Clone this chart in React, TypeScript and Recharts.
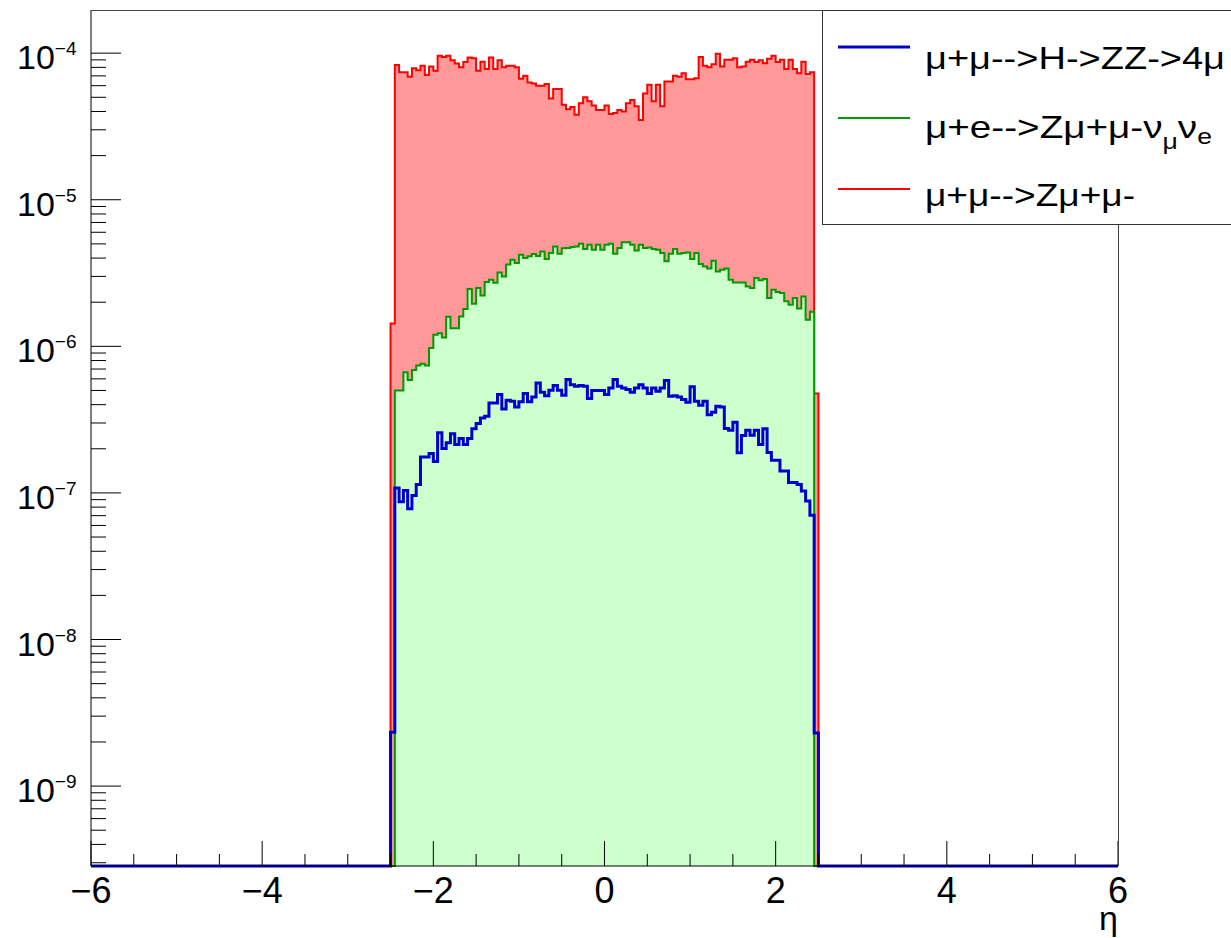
import React from "react";
import { ComposedChart, Area, Line, XAxis, YAxis } from "recharts";

// eta distributions, bins of 0.05 from -2.5 to 2.5 (everything outside is empty)
const BIN_START = -2.5;
const BIN_WIDTH = 0.05;

const X_MIN = -6;
const X_MAX = 6;
const Y_MIN = 2.85e-10;
const Y_MAX = 1.97e-4;

// mu+mu- --> Z mu+ mu-
const ZMUMU = [
  1.43e-6, 8.3e-5, 7.4e-5, 7.4e-5, 6.9e-5, 7.9e-5, 7.65e-5, 8.2e-5, 7.1e-5, 8.1e-5,
  7.6e-5, 9.6e-5, 9.4e-5, 9.6e-5, 8.95e-5, 8.5e-5, 8.0e-5, 8.7e-5, 9.35e-5, 9.25e-5,
  7.6e-5, 8.75e-5, 7.8e-5, 9.35e-5, 7.8e-5, 8.95e-5, 8.0e-5, 8.2e-5, 8.2e-5, 8.0e-5,
  6.7e-5, 7.0e-5, 6.3e-5, 6.2e-5, 6.0e-5, 6.0e-5, 6.15e-5, 4.9e-5, 5.7e-5, 5.7e-5,
  4.45e-5, 4.15e-5, 4.3e-5, 3.8e-5, 4.55e-5, 5.0e-5, 4.7e-5, 4.4e-5, 4.1e-5, 4.1e-5,
  4.4e-5, 3.85e-5, 3.9e-5, 4.1e-5, 4.0e-5, 4.55e-5, 4.8e-5, 4.35e-5, 3.5e-5, 5.3e-5,
  6.1e-5, 4.7e-5, 6.1e-5, 4.35e-5, 6.4e-5, 6.4e-5, 7.0e-5, 6.9e-5, 7.3e-5, 6.65e-5,
  6.65e-5, 6.75e-5, 9.4e-5, 8.2e-5, 8.0e-5, 8.4e-5, 9.9e-5, 8.1e-5, 9.0e-5, 9.0e-5,
  9.25e-5, 8.0e-5, 8.1e-5, 8.75e-5, 9.0e-5, 8.7e-5, 8.95e-5, 8.55e-5, 9.15e-5, 9.6e-5,
  8.7e-5, 9.0e-5, 7.8e-5, 9.0e-5, 7.8e-5, 7.3e-5, 8.75e-5, 7.2e-5, 7.4e-5, 4.76e-7,
];

// mu+e- --> Z mu+ mu- nu_mu nu_e
const ZMUNU = [
  0, 5.0e-7, 5.0e-7, 6.65e-7, 5.9e-7, 6.9e-7, 7.4e-7, 7.6e-7, 7.4e-7, 9.75e-7,
  1.2e-6, 1.23e-6, 1.15e-6, 1.59e-6, 1.33e-6, 1.33e-6, 1.6e-6, 1.8e-6, 2.46e-6, 1.95e-6,
  2.5e-6, 2.22e-6, 2.75e-6, 2.85e-6, 2.71e-6, 3.19e-6, 3.0e-6, 3.61e-6, 3.9e-6, 3.7e-6,
  4.22e-6, 4.01e-6, 4.11e-6, 4.27e-6, 4.14e-6, 4.44e-6, 3.94e-6, 4.33e-6, 4.8e-6, 4.29e-6,
  4.66e-6, 4.69e-6, 4.76e-6, 4.8e-6, 5.01e-6, 4.61e-6, 4.93e-6, 4.56e-6, 4.93e-6, 4.56e-6,
  4.93e-6, 5.01e-6, 4.29e-6, 4.69e-6, 5.12e-6, 5.12e-6, 4.93e-6, 4.51e-6, 4.93e-6, 4.69e-6,
  4.73e-6, 4.61e-6, 4.56e-6, 4.33e-6, 3.8e-6, 4.29e-6, 4.61e-6, 4.29e-6, 4.33e-6, 4.37e-6,
  3.94e-6, 4.33e-6, 3.65e-6, 3.51e-6, 3.39e-6, 3.84e-6, 3.24e-6, 3.33e-6, 3.4e-6, 2.85e-6,
  2.73e-6, 2.73e-6, 2.73e-6, 2.56e-6, 2.5e-6, 2.93e-6, 2.82e-6, 2.88e-6, 2.14e-6, 2.43e-6,
  2.35e-6, 2.31e-6, 2.03e-6, 1.92e-6, 2.14e-6, 1.81e-6, 2.19e-6, 1.52e-6, 1.72e-6, 0,
];

// mu+mu- --> H --> ZZ --> 4mu
const HZZ = [
  2.33e-9, 1.08e-7, 8.7e-8, 1.04e-7, 7.8e-8, 9.6e-8, 1.14e-7, 1.76e-7, 1.76e-7, 1.86e-7,
  1.64e-7, 2.57e-7, 2.01e-7, 2.2e-7, 2.53e-7, 2.14e-7, 2.35e-7, 2.14e-7, 2.35e-7, 2.74e-7,
  2.97e-7, 3.25e-7, 3.33e-7, 4.11e-7, 4.11e-7, 4.69e-7, 3.74e-7, 4.28e-7, 4.22e-7, 3.86e-7,
  4.18e-7, 4.76e-7, 4.18e-7, 4.52e-7, 5.63e-7, 4.86e-7, 4.61e-7, 5.01e-7, 5.4e-7, 5.01e-7,
  4.63e-7, 5.93e-7, 5.48e-7, 5.34e-7, 5.4e-7, 5.34e-7, 4.4e-7, 4.99e-7, 4.99e-7, 4.99e-7,
  4.69e-7, 5.2e-7, 5.93e-7, 5.34e-7, 5.2e-7, 5.07e-7, 4.86e-7, 5.2e-7, 5.48e-7, 5.2e-7,
  4.76e-7, 5.2e-7, 4.93e-7, 5.2e-7, 5.84e-7, 4.56e-7, 4.61e-7, 4.52e-7, 4.33e-7, 4.15e-7,
  5.29e-7, 4.22e-7, 3.96e-7, 4.22e-7, 3.42e-7, 3.55e-7, 3.9e-7, 3.86e-7, 2.75e-7, 2.68e-7,
  3.03e-7, 1.88e-7, 2.46e-7, 2.68e-7, 2.47e-7, 2.68e-7, 2.14e-7, 2.74e-7, 1.89e-7, 1.67e-7,
  1.67e-7, 1.41e-7, 1.41e-7, 1.18e-7, 1.18e-7, 1.14e-7, 1.03e-7, 8.8e-8, 7.05e-8, 2.3e-9,
];

const X_TICKS = [
  -6, -5.5, -5, -4.5, -4, -3.5, -3, -2.5, -2, -1.5, -1, -0.5, 0,
  0.5, 1, 1.5, 2, 2.5, 3, 3.5, 4, 4.5, 5, 5.5, 6,
];
const X_LABELED = [-6, -4, -2, 0, 2, 4, 6];
const Y_EXPONENTS = [-10, -9, -8, -7, -6, -5, -4];
const Y_MANTISSAS = [1, 2, 3, 4, 5, 6, 7, 8, 9];

const LEGEND = [
  { color: "#0000cc", width: 3, span: 300, parts: [{ t: "μ+μ-->H->ZZ->4μ" }] },
  {
    color: "#009900",
    width: 2,
    span: 287,
    parts: [{ t: "μ+e-->Zμ+μ-ν" }, { t: "μ", sub: true }, { t: "ν" }, { t: "e", sub: true }],
  },
  { color: "#ff0000", width: 2, span: 210, parts: [{ t: "μ+μ-->Zμ+μ-" }] },
];

// plot frame in page pixels
const W = 1231;
const H = 938;
const PLOT_LEFT = 91;
const PLOT_RIGHT = 1118;
const PLOT_TOP = 10;
const PLOT_BOTTOM = 866;
const FONT = "'Liberation Sans', Arial, Helvetica, sans-serif";

const floor = (v: number) => (v > 0 ? v : Y_MIN);

const rows: { x: number; red: number; green: number; blue: number }[] = [];
rows.push({ x: X_MIN, red: Y_MIN, green: Y_MIN, blue: Y_MIN });
ZMUMU.forEach((v, i) => {
  rows.push({
    x: +(BIN_START + i * BIN_WIDTH).toFixed(3),
    red: floor(v),
    green: floor(ZMUNU[i]),
    blue: floor(HZZ[i]),
  });
});
rows.push({ x: +(BIN_START + ZMUMU.length * BIN_WIDTH).toFixed(3), red: Y_MIN, green: Y_MIN, blue: Y_MIN });
rows.push({ x: X_MAX, red: Y_MIN, green: Y_MIN, blue: Y_MIN });

const yTicks: number[] = [];
Y_EXPONENTS.forEach((e) =>
  Y_MANTISSAS.forEach((m) => {
    const v = m * Math.pow(10, e);
    if (v >= Y_MIN && v <= Y_MAX) yTicks.push(v);
  })
);

const minus = (n: number) => (n < 0 ? "\u2212" + Math.abs(n) : String(n));

function YTick(props: any) {
  const { y, payload } = props;
  const lg = Math.log10(payload.value);
  const major = Math.abs(lg - Math.round(lg)) < 1e-6;
  return (
    <g>
      <line x1={PLOT_LEFT} x2={PLOT_LEFT + (major ? 30 : 15)} y1={y} y2={y} stroke="#000" strokeWidth={1} />
      {major && (
        <text x={17} y={y + 16} fontSize={34} fontFamily={FONT} fill="#000">
          10
          <tspan dy={-14} fontSize={19}>
            {minus(Math.round(lg))}
          </tspan>
        </text>
      )}
    </g>
  );
}

function XTick(props: any) {
  const { x, payload } = props;
  const v = payload.value;
  const major = X_LABELED.includes(v);
  return (
    <g>
      <line x1={x} x2={x} y1={PLOT_BOTTOM} y2={PLOT_BOTTOM - (major ? 25 : 12)} stroke="#000" strokeWidth={1} />
      {major && (
        <text x={x} y={903} fontSize={36} fontFamily={FONT} textAnchor="middle" fill="#000">
          {minus(v)}
        </text>
      )}
    </g>
  );
}

export default function App() {
  return (
    <div
      style={{
        position: "absolute",
        left: 0,
        top: 0,
        width: W,
        height: H,
        overflow: "hidden",
        background: "#fff",
        fontFamily: FONT,
      }}
    >
      <ComposedChart
        width={W}
        height={H}
        data={rows}
        margin={{ top: PLOT_TOP, right: W - PLOT_RIGHT, bottom: 0, left: 0 }}
      >
        <Area
          type="stepAfter"
          dataKey="red"
          stroke="#ff0000"
          strokeWidth={2}
          fill="#ff9999"
          fillOpacity={1}
          baseValue={Y_MIN}
          dot={false}
          activeDot={false}
          isAnimationActive={false}
        />
        <Area
          type="stepAfter"
          dataKey="green"
          stroke="#009900"
          strokeWidth={2}
          fill="#ccffcc"
          fillOpacity={1}
          baseValue={Y_MIN}
          dot={false}
          activeDot={false}
          isAnimationActive={false}
        />
        <Line
          type="stepAfter"
          dataKey="blue"
          stroke="#0000cc"
          strokeWidth={3}
          dot={false}
          activeDot={false}
          isAnimationActive={false}
        />
        <XAxis
          dataKey="x"
          type="number"
          domain={[X_MIN, X_MAX]}
          ticks={X_TICKS}
          interval={0}
          height={H - PLOT_BOTTOM}
          tickLine={false}
          axisLine={{ stroke: "#000" }}
          tick={(p: any) => <XTick {...p} />}
        />
        <YAxis
          type="number"
          scale="log"
          domain={[Y_MIN, Y_MAX]}
          ticks={yTicks}
          interval={0}
          width={PLOT_LEFT}
          tickLine={false}
          axisLine={{ stroke: "#000" }}
          tick={(p: any) => <YTick {...p} />}
        />
      </ComposedChart>

      <svg
        width={W}
        height={H}
        style={{ position: "absolute", left: 0, top: 0, pointerEvents: "none" }}
      >
        <line x1={PLOT_LEFT} x2={PLOT_RIGHT} y1={PLOT_TOP + 0.5} y2={PLOT_TOP + 0.5} stroke="#444" />
        <line x1={PLOT_RIGHT + 0.5} x2={PLOT_RIGHT + 0.5} y1={PLOT_TOP} y2={PLOT_BOTTOM} stroke="#444" />
        <text x={PLOT_RIGHT} y={930} fontSize={34} fontFamily={FONT} textAnchor="end" fill="#000">
          η
        </text>
        <rect x={822.5} y={10.5} width={500} height={214} fill="#fff" stroke="#333" strokeWidth={1} />
        {LEGEND.map((entry, i) => {
          const ly = 47 + i * 71;
          return (
            <g key={i}>
              <line x1={838} x2={910} y1={ly} y2={ly} stroke={entry.color} strokeWidth={entry.width} />
              <text
                x={925}
                y={69 + i * 68.5}
                fontSize={32}
                fontFamily={FONT}
                fill="#000"
                textLength={entry.span}
                lengthAdjust="spacingAndGlyphs"
              >
                {entry.parts.map((p, j) => {
                  const prevSub = j > 0 && entry.parts[j - 1].sub;
                  const dy = p.sub ? (p.t === "e" ? 6 : 11) : prevSub ? -11 : 0;
                  return (
                    <tspan key={j} dy={dy} fontSize={p.sub ? 22 : 32}>
                      {p.t}
                    </tspan>
                  );
                })}
              </text>
            </g>
          );
        })}
      </svg>
    </div>
  );
}
